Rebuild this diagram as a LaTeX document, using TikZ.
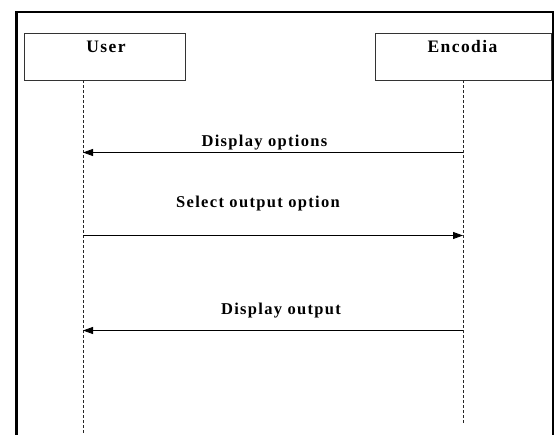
\documentclass[tikz,border=0pt]{standalone}
\usepackage{fontspec}
\setmainfont{Liberation Serif}[LetterSpace=8]
\usetikzlibrary{arrows.meta}
\tikzset{
  actorbox/.style={draw=black!80, line width=0.9pt, minimum width=161pt, minimum height=47pt, inner sep=0pt, anchor=north west},
  actorlabel/.style={font=\fontsize{17.5}{19}\selectfont\bfseries, anchor=base, inner sep=0pt},
  msglabel/.style={font=\fontsize{16.5}{18}\selectfont\bfseries, anchor=base, inner sep=0pt},
  lifeline/.style={draw=black!85, line width=0.9pt, dash pattern=on 3pt off 2pt},
  msg/.style={draw=black, line width=0.9pt, -{Triangle[length=10pt,width=7pt]}},
  frame/.style={draw=black, line width=2.6pt}
}
\begin{document}
\begin{tikzpicture}[x=1pt,y=-1pt]
\useasboundingbox (0,0) rectangle (555,435);
\clip (0,0) rectangle (555,435);
% outer frame (bottom runs off the picture)
\draw[frame] (16.5,445) -- (16.5,12) -- (553,12) -- (553,445);
% actors
\node[actorbox] (user) at (24,33) {};
\node[actorbox, minimum width=176pt] (enc) at (375,33) {};
\node[actorlabel] (userlbl) at (106,53) {User};
\node[actorlabel] (enclbl) at (462.5,53) {Encodia};
% lifelines
\coordinate (uTop) at (83,80.5);
\coordinate (uBot) at (83,440);
\coordinate (eTop) at (463,80.5);
\coordinate (eBot) at (463,424);
\draw[lifeline] (uTop) -- (uBot);
\draw[lifeline] (eTop) -- (eBot);
% message points
\coordinate (e1) at (463,152.5);
\coordinate (u1) at (83,152.5);
\coordinate (u2) at (83,235.5);
\coordinate (e2) at (463,235.5);
\coordinate (e3) at (463,330.5);
\coordinate (u3) at (83,330.5);
\draw[msg] (e1) -- (u1);
\draw[msg] (u2) -- (e2);
\draw[msg] (e3) -- (u3);
\node[msglabel] (m1) at (264.5,146.5) {Display options};
\node[msglabel] (m2) at (258,208) {Select output option};
\node[msglabel] (m3) at (281,314.5) {Display output};
\end{tikzpicture}
\end{document}
